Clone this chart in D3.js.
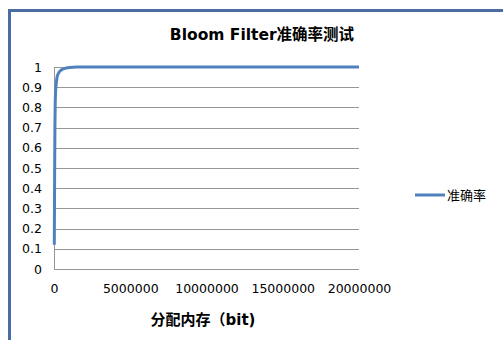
<!DOCTYPE html>
<html><head><meta charset="utf-8">
<script src="https://cdn.jsdelivr.net/npm/d3@7"></script>
<style>
html,body{margin:0;padding:0;background:#fff;}
svg{display:block;}
text{font-family:"DejaVu Sans","Noto Sans CJK SC",sans-serif;fill:#000;}
</style></head>
<body>
<script>
// ---- data ----
const memoryBits = [20000, 40000, 60000, 80000, 100000, 150000, 200000, 300000, 400000, 600000, 800000, 1000000, 1500000, 2000000, 5000000, 10000000, 15000000, 20000000];
const accuracy   = [0.12, 0.45, 0.70, 0.82, 0.87, 0.92, 0.95, 0.97, 0.98, 0.99, 0.995, 0.998, 1, 1, 1, 1, 1, 1];
const xTicks = [0, 5000000, 10000000, 15000000, 20000000];
const yTicks = [0, 0.1, 0.2, 0.3, 0.4, 0.5, 0.6, 0.7, 0.8, 0.9, 1];
const seriesName = "准确率";
const chartTitle = "Bloom Filter准确率测试";
const xTitle = "分配内存（bit)";

const W = 503, H = 340;
const svg = d3.select("body").append("svg").attr("width", W).attr("height", H);

// outer frame
svg.append("rect").attr("x", 0).attr("y", 0).attr("width", W).attr("height", H).attr("fill", "#fff");
svg.append("path").attr("d", `M9.5,${H} V10.5 H${W}`).attr("fill", "none")
  .attr("stroke", "#4a6ea3").attr("stroke-width", 3);

const plot = {l: 54, r: 359, t: 67, b: 269};
const x = d3.scaleLinear().domain([0, 20000000]).range([plot.l, plot.r]);
const y = d3.scaleLinear().domain([0, 1]).range([plot.b, plot.t]);

// gridlines
svg.append("g").selectAll("line").data(yTicks).join("line")
  .attr("x1", plot.l).attr("x2", plot.r)
  .attr("y1", d => Math.round(y(d)) + 0.5).attr("y2", d => Math.round(y(d)) + 0.5)
  .attr("stroke", "#969696").attr("stroke-width", 1);
// left axis line
svg.append("line").attr("x1", plot.l + 0.5).attr("x2", plot.l + 0.5)
  .attr("y1", plot.t).attr("y2", plot.b + 1).attr("stroke", "#969696");

// y axis labels
const yAxis = d3.axisLeft(y).tickValues(yTicks).tickSize(0).tickPadding(12)
  .tickFormat(d => d3.format("~g")(d));
const gy = svg.append("g").attr("transform", `translate(${plot.l},0)`).call(yAxis);
gy.select(".domain").remove();
gy.selectAll("text").style("font-size", "12.5px").style("font-family", "DejaVu Sans, sans-serif").attr("fill", "#000");

// x axis labels
const xAxis = d3.axisBottom(x).tickValues(xTicks).tickSize(0).tickPadding(15)
  .tickFormat(d => String(d));
const gx = svg.append("g").attr("transform", `translate(0,${plot.b})`).call(xAxis);
gx.select(".domain").remove();
gx.selectAll("text").style("font-size", "12.5px").style("font-family", "DejaVu Sans, sans-serif").attr("fill", "#000");

// line
const pts = memoryBits.map((m, i) => [m, accuracy[i]]);
svg.append("path").datum(pts)
  .attr("d", d3.line().x(d => x(d[0])).y(d => y(d[1])).curve(d3.curveMonotoneX))
  .attr("fill", "none").attr("stroke", "#4f81bd").attr("stroke-width", 3)
  .attr("stroke-linejoin", "round");

// title
svg.append("text").attr("x", 262).attr("y", 40).attr("text-anchor", "middle")
  .style("font-size", "15.5px").style("font-weight", "bold").text(chartTitle);

// x title
svg.append("text").attr("x", 203).attr("y", 325).attr("text-anchor", "middle")
  .style("font-size", "15px").style("font-weight", "bold").text(xTitle);

// legend
svg.append("line").attr("x1", 415).attr("x2", 445).attr("y1", 195).attr("y2", 195)
  .attr("stroke", "#4f81bd").attr("stroke-width", 3);
svg.append("text").attr("x", 447).attr("y", 200)
  .style("font-size", "13px").text(seriesName);
</script>
</body></html>
